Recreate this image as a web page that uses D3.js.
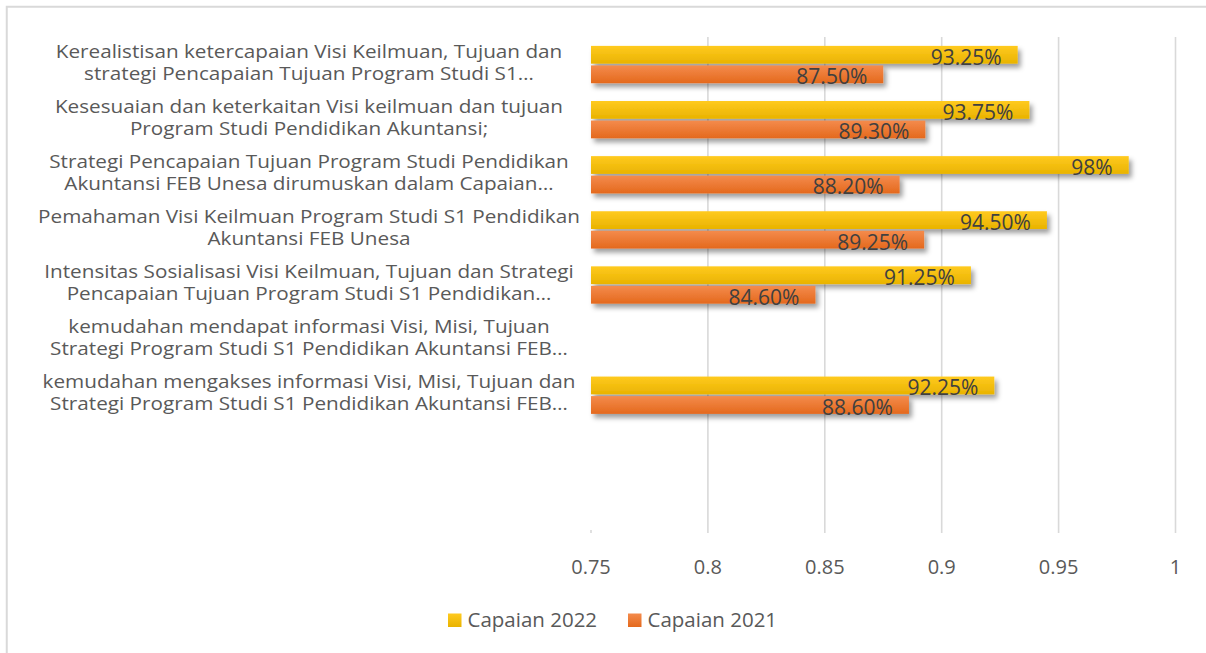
<!DOCTYPE html>
<html>
<head>
<meta charset="utf-8">
<script src="https://cdn.jsdelivr.net/npm/d3@7"></script>
<style>
  html, body { margin: 0; padding: 0; background: #fff; }
  svg { display: block; font-family: "Open Sans", "Noto Sans", sans-serif; }
</style>
</head>
<body>
<svg id="chart" width="1206" height="653"></svg>
<script>
// category labels as Excel wrapped them (two blank rows at the end of the sheet)
const categories = [
  ["Kerealistisan ketercapaian Visi Keilmuan, Tujuan dan", "strategi Pencapaian Tujuan Program Studi S1…"],
  ["Kesesuaian dan keterkaitan Visi keilmuan dan tujuan", "Program Studi Pendidikan Akuntansi;"],
  ["Strategi Pencapaian Tujuan Program Studi Pendidikan", "Akuntansi FEB Unesa dirumuskan dalam Capaian…"],
  ["Pemahaman Visi Keilmuan Program Studi S1 Pendidikan", "Akuntansi FEB Unesa"],
  ["Intensitas Sosialisasi Visi Keilmuan, Tujuan dan Strategi", "Pencapaian Tujuan Program Studi S1 Pendidikan…"],
  ["kemudahan mendapat informasi Visi, Misi, Tujuan", "Strategi Program Studi S1 Pendidikan Akuntansi FEB…"],
  ["kemudahan mengakses informasi Visi, Misi, Tujuan dan", "Strategi Program Studi S1 Pendidikan Akuntansi FEB…"],
  [""],
  [""]
];

const series = ["Capaian 2022", "Capaian 2021"];
const values2022 = [0.9325, 0.9375, 0.98, 0.945, 0.9125, null, 0.9225, null, null];
const values2021 = [0.875, 0.893, 0.882, 0.8925, 0.846, null, 0.886, null, null];
const labels2022 = ["93.25%", "93.75%", "98%", "94.50%", "91.25%", "", "92.25%", "", ""];
const labels2021 = ["87.50%", "89.30%", "88.20%", "89.25%", "84.60%", "", "88.60%", "", ""];
const xTicks = [0.75, 0.8, 0.85, 0.9, 0.95, 1];
const xTickLabels = ["0.75", "0.8", "0.85", "0.9", "0.95", "1"];

const colors = {
  "Capaian 2022": ["#ffca1f", "#e9b300"],
  "Capaian 2021": ["#f48b4c", "#e4691d"]
};

const rows = categories.map((lines, i) => ({
  i, lines,
  bars: [
    {s: series[0], v: values2022[i], label: labels2022[i]},
    {s: series[1], v: values2021[i], label: labels2021[i]}
  ]
}));

const svg = d3.select("#chart");
const plot = {left: 591, right: 1175.5, top: 37, bottom: 533};

const x = d3.scaleLinear([0.75, 1], [plot.left, plot.right]);
const y = d3.scaleBand(d3.range(categories.length), [plot.top, plot.bottom])
    .paddingInner(0.323)
    .paddingOuter(0.1615);
const yInner = d3.scaleBand(series, [0, y.bandwidth()]).paddingInner(0.09);

const defs = svg.append("defs");
series.forEach((s, k) => {
  const g = defs.append("linearGradient")
      .attr("id", "grad" + k)
      .attr("x1", 0).attr("x2", 0).attr("y1", 0).attr("y2", 1);
  g.append("stop").attr("offset", "0%").attr("stop-color", colors[s][0]);
  g.append("stop").attr("offset", "100%").attr("stop-color", colors[s][1]);
});
defs.append("filter")
    .attr("id", "shadow")
    .attr("x", "-5%").attr("y", "-50%").attr("width", "110%").attr("height", "220%")
  .append("feDropShadow")
    .attr("dx", 3).attr("dy", 4)
    .attr("stdDeviation", 2.5)
    .attr("flood-color", "#000")
    .attr("flood-opacity", 0.38);

// chart area border (only top and left edges fall inside the picture)
svg.append("path")
    .attr("d", "M6.75,653V6.75H1206")
    .attr("fill", "none")
    .attr("stroke", "#d9d9d9")
    .attr("stroke-width", 2);

// gridlines
svg.append("g")
    .attr("stroke", "#d9d9d9")
    .attr("stroke-width", 1.6)
  .selectAll("line")
  .data(xTicks.slice(1))
  .join("line")
    .attr("x1", d => x(d)).attr("x2", d => x(d))
    .attr("y1", plot.top).attr("y2", plot.bottom);

svg.append("line")
    .attr("x1", plot.left).attr("x2", plot.left)
    .attr("y1", plot.bottom - 3).attr("y2", plot.bottom)
    .attr("stroke", "#d9d9d9")
    .attr("stroke-width", 1.6);

// tick labels
svg.append("g")
    .attr("fill", "#595959")
    .attr("font-size", 20)
    .attr("text-anchor", "middle")
  .selectAll("text")
  .data(xTicks)
  .join("text")
    .attr("x", d => x(d))
    .attr("y", 574)
    .text((d, i) => xTickLabels[i]);

// category labels
const cat = svg.append("g")
    .attr("fill", "#595959")
    .attr("font-size", 19)
    .attr("text-anchor", "middle")
  .selectAll("text")
  .data(rows)
  .join("text")
    .attr("transform", d => `translate(309,${y(d.i) + y.bandwidth() / 2}) scale(1.09,1)`);
cat.selectAll("tspan")
  .data(d => d.lines.map((t, j) => ({t, j, n: d.lines.length})))
  .join("tspan")
    .attr("x", 0)
    .attr("y", d => (d.j - (d.n - 1) / 2) * 22 + 4)
    .text(d => d.t);

// bars
const group = svg.append("g")
  .selectAll("g")
  .data(rows)
  .join("g")
    .attr("transform", d => `translate(0,${y(d.i)})`);

group.selectAll("rect")
  .data(d => d.bars.filter(b => b.v != null))
  .join("rect")
    .attr("x", x(0.75))
    .attr("y", d => yInner(d.s))
    .attr("width", d => x(d.v) - x(0.75))
    .attr("height", yInner.bandwidth())
    .attr("fill", d => `url(#grad${series.indexOf(d.s)})`)
    .attr("filter", "url(#shadow)");

group.selectAll("text")
  .data(d => d.bars.filter(b => b.v != null))
  .join("text")
    .attr("x", d => x(d.v) - 16)
    .attr("y", d => yInner(d.s) + yInner.bandwidth() + 1)
    .attr("text-anchor", "end")
    .attr("fill", "#404040")
    .attr("font-size", 21)
    .text(d => d.label);

// legend
const legendX = [448, 628];
const legend = svg.append("g")
  .selectAll("g")
  .data(series)
  .join("g")
    .attr("transform", (d, i) => `translate(${legendX[i]},613.5)`);
legend.append("rect")
    .attr("width", 13.5).attr("height", 13.5)
    .attr("fill", (d, i) => `url(#grad${i})`);
legend.append("text")
    .attr("x", 19.5)
    .attr("y", 13.5)
    .attr("fill", "#595959")
    .attr("font-size", 20.5)
    .text(d => d);
</script>
</body>
</html>
